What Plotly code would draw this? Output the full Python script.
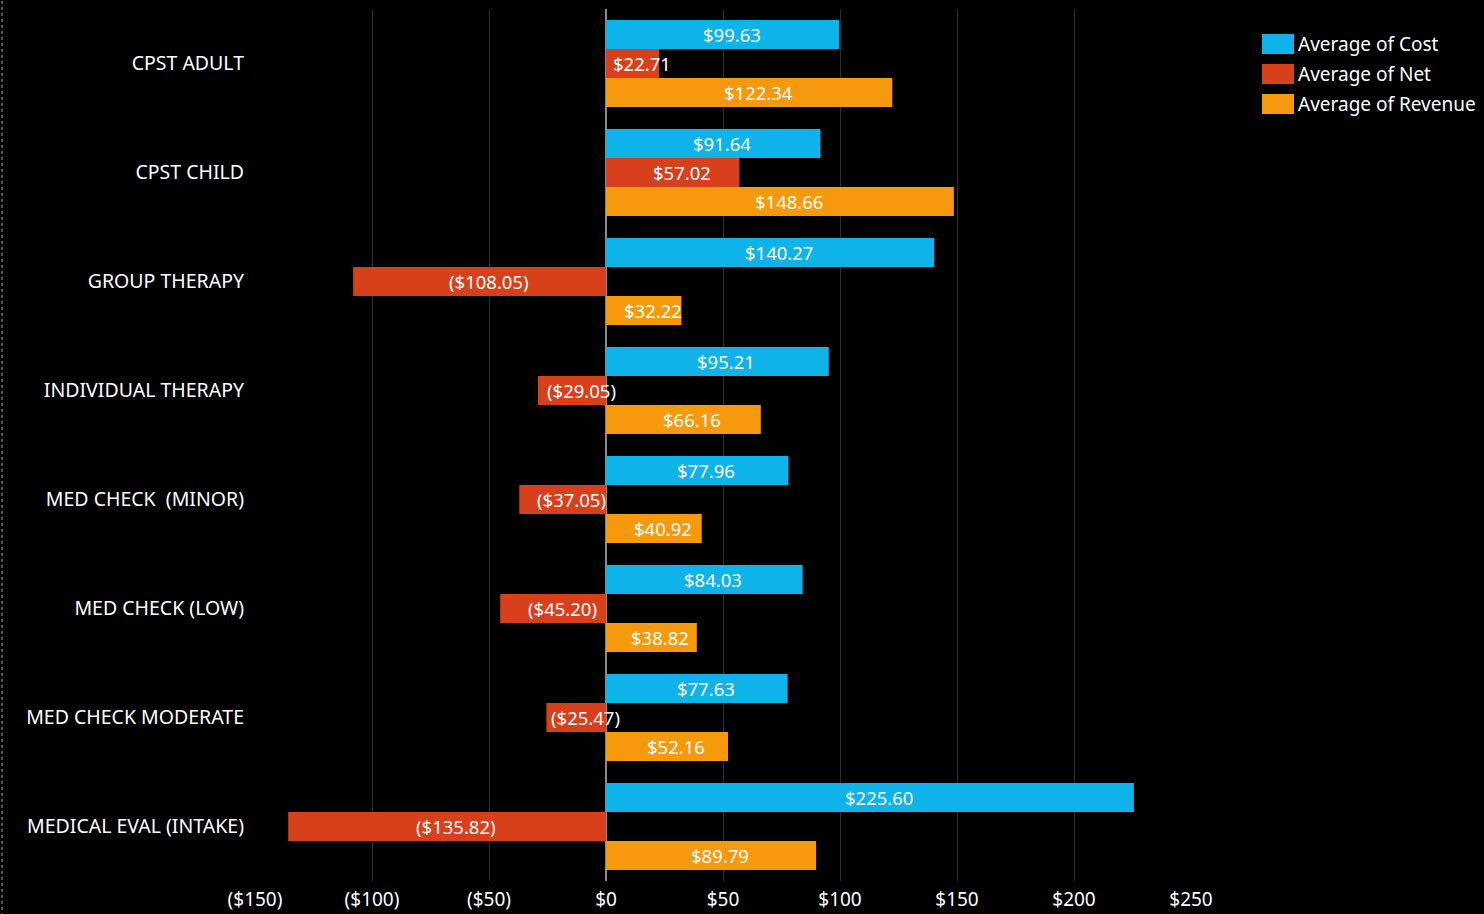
import plotly.graph_objects as go

categories = [
    "CPST ADULT", "CPST CHILD", "GROUP THERAPY", "INDIVIDUAL THERAPY",
    "MED CHECK  (MINOR)", "MED CHECK (LOW)", "MED CHECK MODERATE",
    "MEDICAL EVAL (INTAKE)",
]
avg_cost = [99.63, 91.64, 140.27, 95.21, 77.96, 84.03, 77.63, 225.60]
avg_net = [22.71, 57.02, -108.05, -29.05, -37.05, -45.20, -25.47, -135.82]
avg_revenue = [122.34, 148.66, 32.22, 66.16, 40.92, 38.82, 52.16, 89.79]

series_names = ["Average of Cost", "Average of Net", "Average of Revenue"]
series_values = [avg_cost, avg_net, avg_revenue]
series_colors = ["#0db3e9", "#d8401c", "#f7990c"]

tick_values = [-150, -100, -50, 0, 50, 100, 150, 200, 250]


def money(v, decimals=2):
    s = f"${abs(v):,.{decimals}f}"
    return f"({s})" if v < 0 else s


FONT = "Noto Sans"
fig = go.Figure()

for name, vals, color in zip(series_names, series_values, series_colors):
    fig.add_trace(go.Bar(
        y=categories, x=vals, name=name, orientation="h",
        marker=dict(color=color, line=dict(width=0)),
        offsetgroup=name, showlegend=False,
        text=[money(v) for v in vals], textposition="none",
    ))

# value labels centred on each bar (allowed to spill past short bars)
n = len(series_names)
for i, (name, vals) in enumerate(zip(series_names, series_values)):
    width = 0.8 / n
    offset = -0.4 + width * (i + 0.5)
    for j, v in enumerate(vals):
        fig.add_annotation(
            x=v / 2, y=j + offset, xref="x", yref="y", xshift=9,
            text=money(v), showarrow=False,
            font=dict(family=FONT, size=18.5, color="white"),
        )

# custom legend with wide swatches
for i, (name, color) in enumerate(zip(series_names, series_colors)):
    y0 = 34 + i * 30
    fig.add_shape(type="rect", xref="paper", yref="paper",
                  x0=(1262 - 255) / 936, x1=(1294 - 255) / 936,
                  y0=1 - (y0 + 20 - 9) / 872, y1=1 - (y0 - 9) / 872,
                  fillcolor=color, line=dict(width=0))
    fig.add_annotation(xref="paper", yref="paper",
                       x=(1296 - 255) / 936, y=1 - (y0 + 10 - 9) / 872,
                       xanchor="left", yanchor="middle", showarrow=False,
                       text=name, font=dict(family=FONT, size=19, color="white"))

# dotted border at the far left
fig.add_shape(type="line", xref="paper", yref="paper",
              x0=(2 - 255) / 936, x1=(2 - 255) / 936, y0=-0.04, y1=1.01,
              line=dict(color="#555555", width=2, dash="dot"))

fig.update_layout(
    width=1484, height=914,
    paper_bgcolor="black", plot_bgcolor="black",
    margin=dict(l=255, r=293, t=9, b=33),
    barmode="group", bargap=0.2, bargroupgap=0,
    font=dict(family=FONT, color="white", size=19),
    showlegend=False,
    xaxis=dict(
        range=[-150, 250], tickvals=tick_values,
        ticktext=[money(v, 0) for v in tick_values],
        showgrid=True, gridcolor="#2e2e2e", gridwidth=1,
        zeroline=True, zerolinecolor="#8a8a8a", zerolinewidth=2,
        showline=False, ticks="", ticklabelstandoff=5, automargin=False,
        tickfont=dict(size=19, color="white"),
    ),
    yaxis=dict(
        autorange="reversed", showgrid=False, zeroline=False,
        showline=False, ticks="", ticklabelstandoff=10, automargin=False,
        tickfont=dict(size=19.5, color="white"),
    ),
)

fig.write_html("out.html")
